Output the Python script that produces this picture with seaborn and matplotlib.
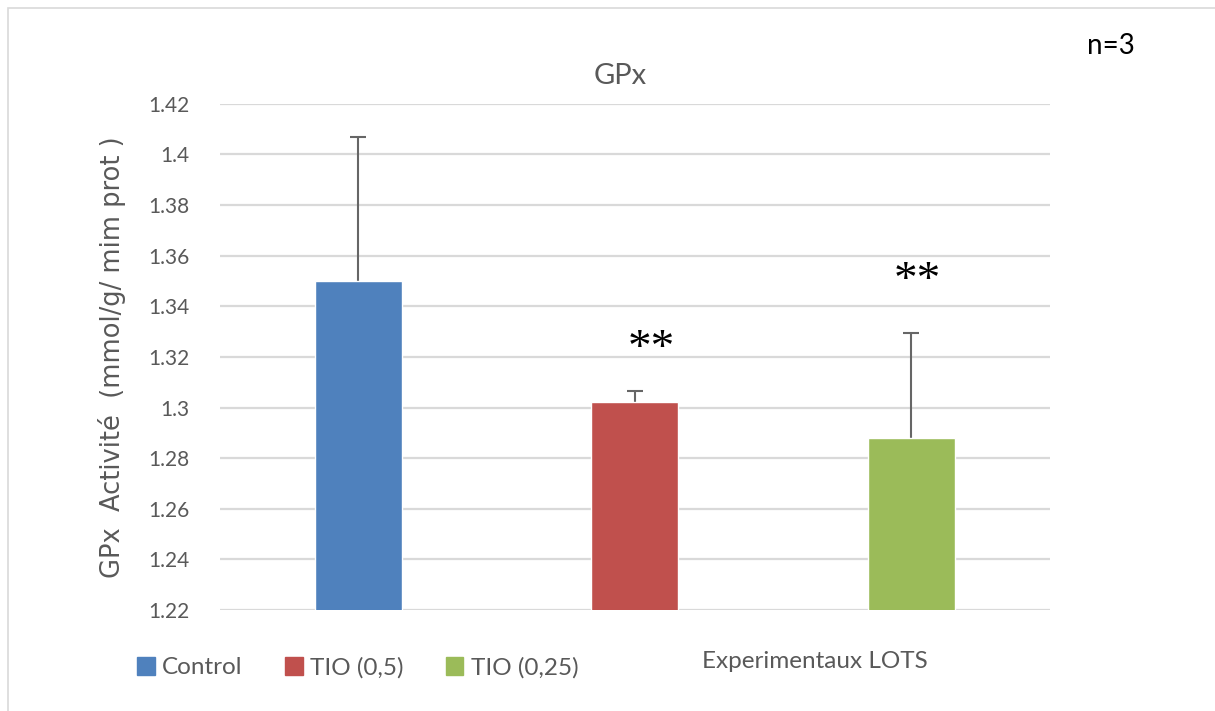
import matplotlib.pyplot as plt
import matplotlib.patches as mpatches
import seaborn as sns
import numpy as np
import pandas as pd

groups = ['Control', 'TIO (0,5)', 'TIO (0,25)']
gpx_mean = [1.350, 1.302, 1.288]
gpx_err = [0.057, 0.0046, 0.0415]
stars = ['', '**', '**']
colors = ['#4F81BD', '#C0504D', '#9BBB59']
yticks = [1.22, 1.24, 1.26, 1.28, 1.30, 1.32, 1.34, 1.36, 1.38, 1.40, 1.42]
ytick_labels = ['1.22', '1.24', '1.26', '1.28', '1.3', '1.32', '1.34',
                '1.36', '1.38', '1.4', '1.42']

df = pd.DataFrame({'group': groups, 'gpx': gpx_mean})

sns.set_style('white')
plt.rcParams['font.family'] = ['Lato', 'DejaVu Sans']

fig = plt.figure(figsize=(12.15, 7.11), dpi=100)
ax = fig.add_axes([0.181, 0.142, 0.683, 0.712])

sns.barplot(data=df, x='group', y='gpx', hue='group', palette=colors,
            width=0.314, saturation=1, legend=False, ax=ax, zorder=3)

# upper error only; the lower cap sits behind the bar
pos = np.arange(len(groups))
eb = ax.errorbar(pos, gpx_mean, yerr=[np.zeros(len(groups)), gpx_err],
                 fmt='none', ecolor='#666666', elinewidth=1.5, capsize=6,
                 capthick=1.5, zorder=2.5)
eb[1][0].set_visible(False)

star_gap = [0, 0.0078, 0.0118]
for p, m, e, s, g in zip(pos, gpx_mean, gpx_err, stars, star_gap):
    if s:
        ax.text(p + 0.04 * (2 - p) + 0.02, m + e + g, s, ha='center',
                va='bottom', fontsize=34, family='Liberation Serif',
                color='black')

ax.set_ylim(1.22, 1.42)
ax.set_xlim(-0.5, 2.5)
ax.set_yticks(yticks)
ax.set_yticklabels(ytick_labels)
ax.yaxis.grid(True, color='#d9d9d9', linewidth=1.6, zorder=0)
ax.set_axisbelow(True)
ax.set_xticks([])
ax.set_xlabel('')
ax.set_ylabel('GPx  Activité  (mmol/g/ mim prot )', fontsize=18.5,
              family='DejaVu Sans', color='#595959', labelpad=16)
ax.tick_params(axis='y', labelsize=15, labelcolor='#595959', length=0, pad=22)
for sp in ax.spines.values():
    sp.set_visible(False)

ax.set_title('GPx', fontsize=21, color='#595959', pad=14, x=0.482)

handles = [mpatches.Patch(color=c, label=g) for c, g in zip(colors, groups)]
fig.legend(handles=handles, loc='center left', bbox_to_anchor=(0.095, 0.061),
           ncol=3, frameon=False, fontsize=17.5, handlelength=0.72,
           handleheight=0.72, handletextpad=0.3, columnspacing=1.75,
           labelcolor='#595959')

fig.text(0.578, 0.069, 'Experimentaux LOTS', fontsize=17.5, color='#595959',
         va='center', ha='left')
fig.text(0.895, 0.936, 'n=3', fontsize=20, color='black', va='center',
         ha='left')

fig.patches.append(mpatches.Rectangle((8 / 1215, -0.1), 1.2, 1 - 8 / 711 + 0.1,
                                      transform=fig.transFigure, fill=False,
                                      edgecolor='#d9d9d9', linewidth=1.2))

fig.savefig('out.png', dpi=100)
